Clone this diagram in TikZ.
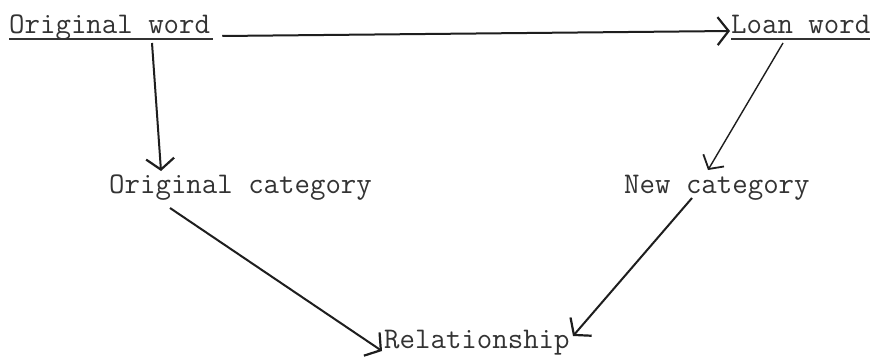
\documentclass[tikz,border=0pt]{standalone}
\usetikzlibrary{arrows.meta,calc}
\definecolor{ink}{HTML}{1E1E1E}
\definecolor{typeink}{HTML}{333333}
\begin{document}
\begin{tikzpicture}[x=1pt,y=-1pt,
  lbl/.style={inner sep=0pt,anchor=base west,text=typeink,font=\fontsize{30}{36}\selectfont\ttfamily},
  uline/.style={draw=typeink,line width=1.4pt},
  conn/.style={draw=ink,line width=2pt,-{Straight Barb[length=11pt,width=28pt,line width=2.2pt]}},
  connthin/.style={draw=ink,line width=1.4pt,-{Straight Barb[length=10pt,width=24pt,line width=1.8pt]}}]
\useasboundingbox[fill=white] (0,0) rectangle (875,361);
\node[lbl] (ow) at (9,34) {Original word};
\node[lbl] (lw) at (731,34) {Loan word};
\node[lbl] (oc) at (109,193) {Original category};
\node[lbl] (nc) at (624,193) {New category};
\node[lbl] (rel) at (384,348) {Relationship};
\draw[uline] ([yshift=-5pt]ow.base west) -- ([yshift=-5pt,xshift=3pt]ow.base east);
\draw[uline] ([yshift=-5pt]lw.base west) -- ([yshift=-5pt]lw.base east);
\draw[conn] ($(ow.base east)+(12,2)$) -- ($(lw.base west)+(-1,-3)$);
\draw[conn] ($(ow.base west)+(143,9)$) -- ($(oc.base west)+(52,-22)$);
\draw[connthin] ($(lw.base west)+(52,9)$) -- ($(nc.base west)+(84,-23)$);
\draw[conn] ($(oc.base west)+(61,15)$) -- ($(rel.base west)+(-2,3)$);
\draw[conn] ($(nc.base west)+(68,5)$) -- ($(rel.base west)+(189,-12)$);
\end{tikzpicture}
\end{document}
